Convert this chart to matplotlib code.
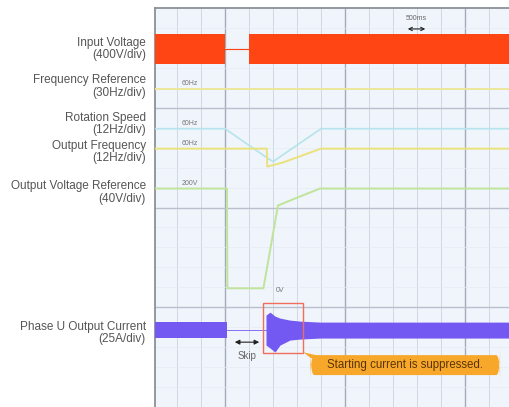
import matplotlib.pyplot as plt
import numpy as np
from matplotlib.patches import Rectangle, FancyBboxPatch, Polygon

plt.rcParams['font.family'] = ['Liberation Sans', 'DejaVu Sans']

# time axis in ms, vertical axis in grid divisions
t_start, t_end = -1458, 5937

# Input voltage envelope (band), gap during momentary power loss
vin_seg1_t = [t_start, 0]
vin_seg2_t = [500, t_end]
vin_top = 3.74
vin_bot = 3.44
vin_gap_level = 3.59

# Frequency reference
fref_t = [t_start, t_end]
fref_v = [3.19, 3.19]

# Rotation speed
rot_t = [t_start, 0, 900, 1000, 2000, t_end]
rot_v = [2.79, 2.79, 2.49, 2.46, 2.79, 2.79]

# Output frequency
fout_t = [t_start, 870, 880, 1200, 1600, 2000, t_end]
fout_v = [2.59, 2.59, 2.41, 2.45, 2.52, 2.59, 2.59]

# Output voltage reference
vref_t = [t_start, 40, 50, 800, 1104, 1458, 1979, t_end]
vref_v = [2.19, 2.19, 1.19, 1.19, 2.02, 2.09, 2.19, 2.19]

# Phase U output current envelope
cur_t = [t_start, 40, 854, 938, 1042, 1146, 1354, 1563, 1979, t_end]
cur_top = [0.851, 0.851, 0.921, 0.951, 0.911, 0.891, 0.871, 0.861, 0.851, 0.851]
cur_bot = [0.691, 0.691, 0.621, 0.591, 0.551, 0.621, 0.671, 0.681, 0.691, 0.691]
cur_gap_level = 0.771

fig = plt.figure(figsize=(5.1, 4.07), dpi=100)
ax = fig.add_axes([155 / 510, 0, 355 / 510, 399 / 407])
ax.set_facecolor('#f0f4fb')
ax.set_xlim(t_start, t_end)
ax.set_ylim(0, 4)

# grid
for x in np.arange(-1000, t_end, 500):
    major = x % 2500 == 0
    ax.axvline(x, color='#a4abb6' if major else '#d0d8e4', lw=1.0 if major else 0.7, zorder=0)
for y in np.arange(0.2, 4, 0.2):
    major = abs(y - round(y)) < 1e-6
    ax.axhline(y, color='#b8c0cc' if major else '#e6ebf3', lw=1.0 if major else 0.5, zorder=0)

for s in ['right', 'bottom']:
    ax.spines[s].set_visible(False)
for s in ['left', 'top']:
    ax.spines[s].set_color('#8c9198')
    ax.spines[s].set_linewidth(1.3)
ax.set_xticks([])
ax.set_yticks([])

red = '#ff4513'
# input voltage
ax.fill_between(vin_seg1_t, vin_bot, vin_top, color=red, lw=0, zorder=3)
ax.fill_between(vin_seg2_t, vin_bot, vin_top, color=red, lw=0, zorder=3)
ax.plot([0, 500], [vin_gap_level, vin_gap_level], color=red, lw=0.8, zorder=3)

ax.plot(fref_t, fref_v, color='#ece79a', lw=1.4, zorder=3)
ax.plot(rot_t, rot_v, color='#b4e4ec', lw=1.2, zorder=3)
ax.plot(fout_t, fout_v, color='#eae27c', lw=1.4, zorder=3)
ax.plot(vref_t, vref_v, color='#bfe49a', lw=1.4, zorder=3)

purple = '#7458f2'
ax.fill_between(cur_t[:2], cur_bot[:2], cur_top[:2], color=purple, lw=0, zorder=3)
ax.fill_between(cur_t[2:], cur_bot[2:], cur_top[2:], color=purple, lw=0, zorder=3)
ax.plot([40, 854], [cur_gap_level, cur_gap_level], color=purple, lw=0.6, zorder=3)

# small value labels
small = dict(fontsize=5, color='#777777', ha='center', va='center', zorder=4)
ax.text(-729, 3.24, '60Hz', **small)
ax.text(-729, 2.84, '60Hz', **small)
ax.text(-729, 2.64, '60Hz', **small)
ax.text(-729, 2.24, '200V', **small)
ax.text(1150, 1.17, '0V', **small)

# time scale marker
ax.text(3990, 3.89, '500ms', fontsize=5, color='#666666', ha='center', va='center')
ax.annotate('', xy=(3750, 3.79), xytext=(4230, 3.79),
            arrowprops=dict(arrowstyle='<->', color='#222222', lw=0.8,
                            mutation_scale=6))

# skip marker
ax.annotate('', xy=(146, 0.65), xytext=(771, 0.65),
            arrowprops=dict(arrowstyle='<|-|>', color='#222222', lw=0.8,
                            mutation_scale=7))
ax.text(458, 0.51, 'Skip', fontsize=7, color='#666666', ha='center', va='center')

# highlight of starting current
ax.add_patch(Rectangle((792, 0.54), 833, 0.50, fill=False,
                       edgecolor='#ef6e5c', lw=1.0, zorder=5))

orange = '#f7a82a'
ax.add_patch(Polygon([(1625, 0.55), (1790, 0.49), (2150, 0.49)],
                     closed=True, color=orange, lw=0, zorder=5))
ax.add_patch(FancyBboxPatch((1780, 0.32), 3950, 0.20,
                            boxstyle='round,pad=0,rounding_size=80',
                            mutation_aspect=0.0035,
                            facecolor=orange, edgecolor='none', zorder=5))
ax.text(3755, 0.42, 'Starting current is suppressed.', fontsize=8.3,
        color='#5a3406', ha='center', va='center', zorder=6)

# channel labels
labels = [
    ('Input Voltage', 43), ('(400V/div)', 55),
    ('Frequency Reference', 80), ('(30Hz/div)', 93),
    ('Rotation Speed', 118), ('(12Hz/div)', 130),
    ('Output Frequency', 146), ('(12Hz/div)', 158),
    ('Output Voltage Reference', 186), ('(40V/div)', 199),
    ('Phase U Output Current', 327), ('(25A/div)', 339),
]
for text, ypx in labels:
    fig.text(146 / 510, 1 - ypx / 407, text, fontsize=8.5, color='#555555',
             ha='right', va='center')

fig.savefig('out.png', dpi=100)
